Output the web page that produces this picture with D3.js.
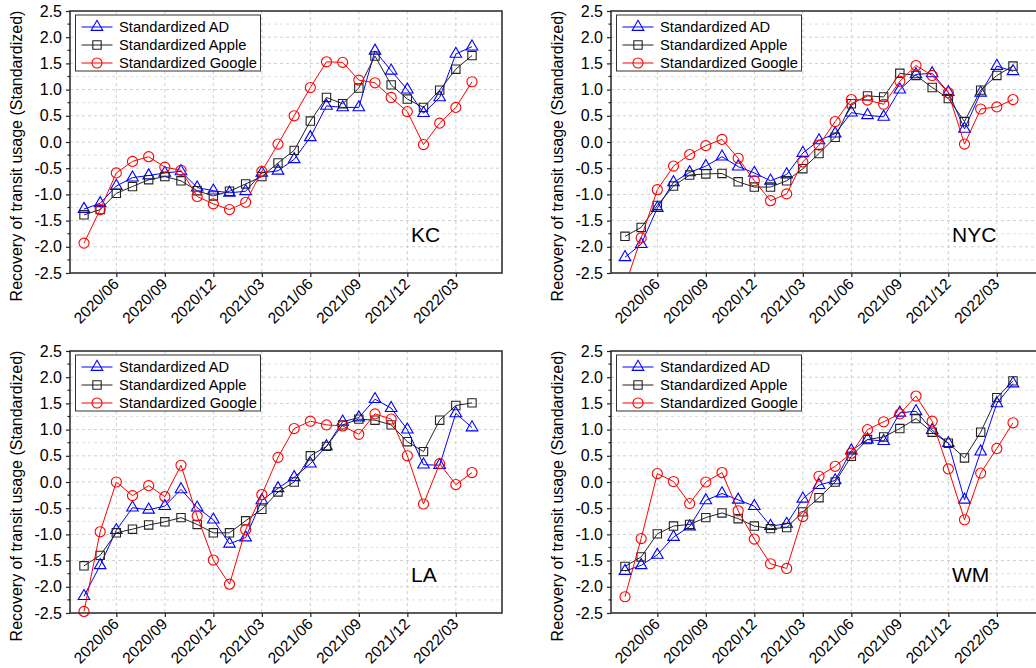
<!DOCTYPE html>
<html>
<head>
<meta charset="utf-8">
<script src="https://cdn.jsdelivr.net/npm/d3@7"></script>
<style>
  html, body { margin: 0; padding: 0; background: #fff; }
  svg { display: block; }
  text { font-family: "Liberation Sans", Arial, sans-serif; fill: #000; }
</style>
</head>
<body>
<svg id="chart" width="1036" height="668"></svg>
<script>
// ---------------- DATA ----------------
const months = ["2020/04","2020/05","2020/06","2020/07","2020/08","2020/09","2020/10","2020/11","2020/12",
  "2021/01","2021/02","2021/03","2021/04","2021/05","2021/06","2021/07","2021/08","2021/09","2021/10",
  "2021/11","2021/12","2022/01","2022/02","2022/03","2022/04"];
const xTickLabels = ["2020/06","2020/09","2020/12","2021/03","2021/06","2021/09","2021/12","2022/03"];
const yTickValues = [-2.5,-2.0,-1.5,-1.0,-0.5,0.0,0.5,1.0,1.5,2.0,2.5];
const seriesNames = ["Standardized AD","Standardized Apple","Standardized Google"];
const cityNames = ["KC","NYC","LA","WM"];
const yTitle = "Recovery of transit usage (Standardized)";

const kcAD     = [-1.28,-1.17,-0.84,-0.68,-0.64,-0.59,-0.56,-0.87,-0.93,-0.97,-0.94,-0.59,-0.55,-0.33,0.09,0.69,0.66,0.66,1.74,1.36,1.00,0.55,0.85,1.68,1.82];
const kcApple  = [-1.39,-1.29,-0.98,-0.85,-0.72,-0.66,-0.74,-0.93,-1.03,-0.94,-0.80,-0.66,-0.40,-0.16,0.40,0.85,0.73,1.03,1.64,1.09,0.82,0.66,0.99,1.39,1.65];
const kcGoogle = [-1.93,-1.29,-0.59,-0.37,-0.28,-0.48,-0.54,-1.04,-1.18,-1.29,-1.15,-0.56,-0.04,0.50,1.04,1.53,1.52,1.18,1.13,0.85,0.58,-0.05,0.36,0.66,1.15];

const nycAD     = [-2.20,-1.95,-1.26,-0.77,-0.58,-0.46,-0.28,-0.47,-0.59,-0.74,-0.62,-0.21,0.03,0.16,0.56,0.51,0.48,1.00,1.29,1.31,0.95,0.25,0.94,1.45,1.35];
const nycApple  = [-1.80,-1.63,-1.21,-0.84,-0.63,-0.61,-0.60,-0.76,-0.86,-0.86,-0.74,-0.51,-0.22,0.09,0.73,0.88,0.86,1.31,1.27,1.04,0.83,0.39,0.99,1.27,1.45];
const nycGoogle = [-2.75,-1.83,-0.91,-0.46,-0.24,-0.07,0.05,-0.31,-0.74,-1.12,-0.99,-0.38,-0.06,0.39,0.81,0.80,0.72,1.16,1.46,1.27,0.94,-0.04,0.63,0.67,0.81];

const laAD     = [-2.18,-1.59,-0.92,-0.49,-0.53,-0.46,-0.14,-0.49,-0.72,-1.18,-1.06,-0.35,-0.12,0.09,0.35,0.68,1.15,1.23,1.58,1.41,1.00,0.33,0.32,1.31,1.04];
const laApple  = [-1.60,-1.40,-0.97,-0.90,-0.82,-0.76,-0.68,-0.81,-0.97,-0.97,-0.74,-0.52,-0.19,0.00,0.50,0.68,1.09,1.20,1.18,1.09,0.77,0.58,1.18,1.46,1.51];
const laGoogle = [-2.47,-0.95,0.00,-0.26,-0.07,-0.28,0.32,-0.65,-1.49,-1.95,-0.91,-0.24,0.47,1.02,1.16,1.09,1.07,0.91,1.30,1.20,0.50,-0.42,0.35,-0.05,0.18];

const wmAD     = [-1.70,-1.59,-1.39,-1.05,-0.85,-0.35,-0.22,-0.34,-0.46,-0.84,-0.80,-0.32,-0.06,0.03,0.60,0.81,0.78,1.32,1.35,0.99,0.74,-0.34,0.58,1.50,1.88];
const wmApple  = [-1.61,-1.43,-0.99,-0.84,-0.81,-0.68,-0.59,-0.70,-0.84,-0.89,-0.87,-0.57,-0.30,0.00,0.49,0.81,0.86,1.02,1.21,0.95,0.74,0.46,0.95,1.61,1.93];
const wmGoogle = [-2.19,-1.08,0.16,0.01,-0.41,0.00,0.18,-0.55,-1.09,-1.56,-1.65,-0.66,0.11,0.30,0.55,1.00,1.15,1.30,1.64,1.16,0.25,-0.72,0.17,0.64,1.13];

// ---------------- LAYOUT / STYLE ----------------
const panels = [
  { name: cityNames[0], left: 70,  top: 11,  series: [kcAD, kcApple, kcGoogle] },
  { name: cityNames[1], left: 611, top: 11,  series: [nycAD, nycApple, nycGoogle] },
  { name: cityNames[2], left: 70,  top: 351, series: [laAD, laApple, laGoogle] },
  { name: cityNames[3], left: 611, top: 351, series: [wmAD, wmApple, wmGoogle] }
];
const W = 432, H = 262;
const colors = ["#0000ff", "#222222", "#ff0000"];
const symbols = [
  d3.symbol().type(d3.symbolTriangle).size(58),
  d3.symbol().type(d3.symbolSquare).size(70),
  d3.symbol().type(d3.symbolCircle).size(80)
];

const svg = d3.select("#chart");
svg.append("rect").attr("width", 1036).attr("height", 668).attr("fill", "#fff");

const x = d3.scalePoint().domain(months).range([14, 402]);
const y = d3.scaleLinear().domain([-2.5, 2.5]).range([H, 0]);
const fmt = d => d.toFixed(1);

panels.forEach((p, pi) => {
  const g = svg.append("g").attr("transform", `translate(${p.left},${p.top})`);
  const clipId = "clip" + pi;
  g.append("clipPath").attr("id", clipId).append("rect").attr("width", W).attr("height", H);

  // grid lines
  const minorY = d3.range(-2.25, 2.3, 0.5);
  const majorY = yTickValues.filter(v => v > -2.5 && v < 2.5);
  g.append("g").selectAll("line").data(minorY).join("line")
    .attr("x1", 0).attr("x2", W).attr("y1", d => y(d)).attr("y2", d => y(d))
    .attr("stroke", "#e0e0e0").attr("stroke-width", 1).attr("stroke-dasharray", "3,3");
  g.append("g").selectAll("line").data(majorY).join("line")
    .attr("x1", 0).attr("x2", W).attr("y1", d => y(d)).attr("y2", d => y(d))
    .attr("stroke", "#cfcfcf").attr("stroke-width", 1).attr("stroke-dasharray", "3,3");
  g.append("g").selectAll("line").data(xTickLabels).join("line")
    .attr("x1", d => x(d)).attr("x2", d => x(d)).attr("y1", 0).attr("y2", H)
    .attr("stroke", "#cfcfcf").attr("stroke-width", 1).attr("stroke-dasharray", "3,3");

  // series
  p.series.forEach((vals, si) => {
    const pts = months.map((m, i) => [m, vals[i]]);
    g.append("path").datum(pts)
      .attr("clip-path", `url(#${clipId})`)
      .attr("fill", "none").attr("stroke", colors[si]).attr("stroke-width", 1)
      .attr("d", d3.line().x(d => x(d[0])).y(d => y(d[1])));
    g.append("g").selectAll("path").data(pts.filter(d => d[1] >= -2.5 && d[1] <= 2.5)).join("path")
      .attr("transform", d => `translate(${x(d[0])},${y(d[1])})`)
      .attr("d", symbols[si]())
      .attr("fill", "none").attr("stroke", colors[si]).attr("stroke-width", 1.1);
  });

  // frame
  g.append("rect").attr("width", W).attr("height", H)
    .attr("fill", "none").attr("stroke", "#333").attr("stroke-width", 1.6);

  // y axis
  const ya = g.append("g").call(d3.axisLeft(y).tickValues(yTickValues).tickFormat(fmt).tickSize(4).tickSizeOuter(0));
  ya.select(".domain").remove();
  ya.selectAll("line").attr("stroke", "#222").attr("stroke-width", 1.2);
  ya.selectAll("text").attr("x", -8).style("font-size", "16px")
    .style("font-family", "'Liberation Sans', Arial, sans-serif").attr("fill", "#000");
  // minor y ticks
  g.append("g").selectAll("line").data(d3.range(-2.25, 2.3, 0.5)).join("line")
    .attr("x1", -2.5).attr("x2", 0).attr("y1", d => y(d)).attr("y2", d => y(d))
    .attr("stroke", "#222").attr("stroke-width", 1.2);

  // x axis
  const xa = g.append("g").attr("transform", `translate(0,${H})`)
    .call(d3.axisBottom(x).tickValues(xTickLabels).tickSize(4).tickSizeOuter(0));
  xa.select(".domain").remove();
  xa.selectAll("line").attr("stroke", "#222").attr("stroke-width", 1.2);
  xa.selectAll("text")
    .attr("x", null).attr("y", null).attr("dy", null)
    .attr("transform", "translate(3,12) rotate(-45)")
    .attr("text-anchor", "end")
    .style("font-size", "15.5px")
    .style("font-family", "'Liberation Sans', Arial, sans-serif").attr("fill", "#000");

  // y title
  g.append("text")
    .attr("transform", `translate(-48,${H / 2 + 14}) rotate(-90)`)
    .attr("text-anchor", "middle")
    .style("font-size", "16px")
    .text(yTitle);

  // city label
  g.append("text").attr("x", 341).attr("y", 231)
    .style("font-size", "21px").text(p.name);

  // legend
  const lg = g.append("g").attr("transform", "translate(5.5,4)");
  lg.append("rect").attr("width", 185).attr("height", 56)
    .attr("fill", "#fff").attr("stroke", "#333").attr("stroke-width", 1);
  seriesNames.forEach((nm, si) => {
    const row = lg.append("g").attr("transform", `translate(0,${12 + si * 18})`);
    row.append("line").attr("x1", 6).attr("x2", 37).attr("y1", 0).attr("y2", 0)
      .attr("stroke", colors[si]).attr("stroke-width", 1);
    row.append("path").attr("transform", "translate(21.5,0)").attr("d", symbols[si]())
      .attr("fill", "none").attr("stroke", colors[si]).attr("stroke-width", 1.1);
    row.append("text").attr("x", 43.5).attr("y", 0).attr("dy", "0.36em")
      .style("font-size", "14.7px").text(nm);
  });
});
</script>
</body>
</html>
